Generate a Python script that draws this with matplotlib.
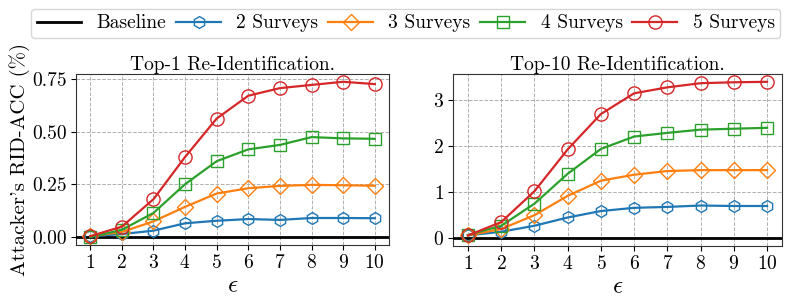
import matplotlib
matplotlib.use("Agg")
import matplotlib.pyplot as plt

plt.rcParams['font.family'] = 'serif'
plt.rcParams['font.serif'] = ['cmr10', 'DejaVu Serif']
plt.rcParams['mathtext.fontset'] = 'cm'
plt.rcParams['axes.formatter.use_mathtext'] = True
plt.rcParams['font.size'] = 14

eps = [1, 2, 3, 4, 5, 6, 7, 8, 9, 10]

# Top-1 re-identification accuracy (%)
top1_2 = [0.005, 0.015, 0.031, 0.066, 0.078, 0.086, 0.082, 0.091, 0.091, 0.090]
top1_3 = [0.005, 0.025, 0.075, 0.144, 0.207, 0.232, 0.243, 0.248, 0.246, 0.244]
top1_4 = [0.000, 0.035, 0.115, 0.251, 0.360, 0.416, 0.437, 0.474, 0.468, 0.466]
top1_5 = [0.005, 0.050, 0.180, 0.380, 0.562, 0.670, 0.706, 0.721, 0.736, 0.725]

# Top-10 re-identification accuracy (%)
top10_2 = [0.06, 0.14, 0.27, 0.45, 0.59, 0.66, 0.68, 0.71, 0.70, 0.70]
top10_3 = [0.06, 0.20, 0.50, 0.92, 1.25, 1.38, 1.46, 1.48, 1.48, 1.48]
top10_4 = [0.07, 0.27, 0.75, 1.40, 1.94, 2.21, 2.29, 2.36, 2.38, 2.40]
top10_5 = [0.06, 0.35, 1.02, 1.93, 2.70, 3.15, 3.28, 3.37, 3.39, 3.40]

labels = ['2 Surveys', '3 Surveys', '4 Surveys', '5 Surveys']
colors = ['#1f77b4', '#ff7f0e', '#2ca02c', '#d62728']
markers = ['h', 'D', 's', 'o']
sizes = [8.5, 8.5, 8.5, 9.5]

fig = plt.figure(figsize=(7.89, 3.08), dpi=100)
ax1 = fig.add_axes([76 / 789, 1 - 245 / 308, 313 / 789, 171 / 308])
ax2 = fig.add_axes([453 / 789, 1 - 246 / 308, 329 / 789, 172 / 308])

panels = [
    (ax1, [top1_2, top1_3, top1_4, top1_5], 'Top-1 Re-Identification.'),
    (ax2, [top10_2, top10_3, top10_4, top10_5], 'Top-10 Re-Identification.'),
]

for ax, series, title in panels:
    ax.axhline(0, color='black', lw=2, label='Baseline', zorder=3)
    for vals, lab, c, m, ms in zip(series, labels, colors, markers, sizes):
        ax.plot(eps, vals, color=c, marker=m, markersize=ms, markerfacecolor='none',
                markeredgewidth=1.0, lw=1.6, label=lab, zorder=4)
    ax.set_title(title, fontsize=14, pad=3)
    ax.set_xticks(eps)
    ax.set_xlabel(r'$\epsilon$', fontsize=18, labelpad=2)
    ax.grid(True, linestyle='--', color='#b0b0b0', lw=0.7)
    ax.tick_params(labelsize=14, pad=3)
    for s in ax.spines.values():
        s.set_color('#333333')

ax1.set_yticks([0.0, 0.25, 0.5, 0.75])
ax1.set_yticklabels(['0.00', '0.25', '0.50', '0.75'])
ax2.set_yticks([0, 1, 2, 3])
ax1.set_ylabel("Attacker's RID-ACC (%)", fontsize=15, labelpad=2)

handles, labs = ax1.get_legend_handles_labels()
fig.legend(handles, labs, loc='upper center', ncol=5, bbox_to_anchor=(0.514, 0.985),
           fontsize=14, frameon=True, edgecolor='#cccccc', handlelength=2.3,
           handletextpad=0.8, columnspacing=0.5, borderpad=0.3, borderaxespad=0.2)

fig.savefig('out.png', dpi=100)
